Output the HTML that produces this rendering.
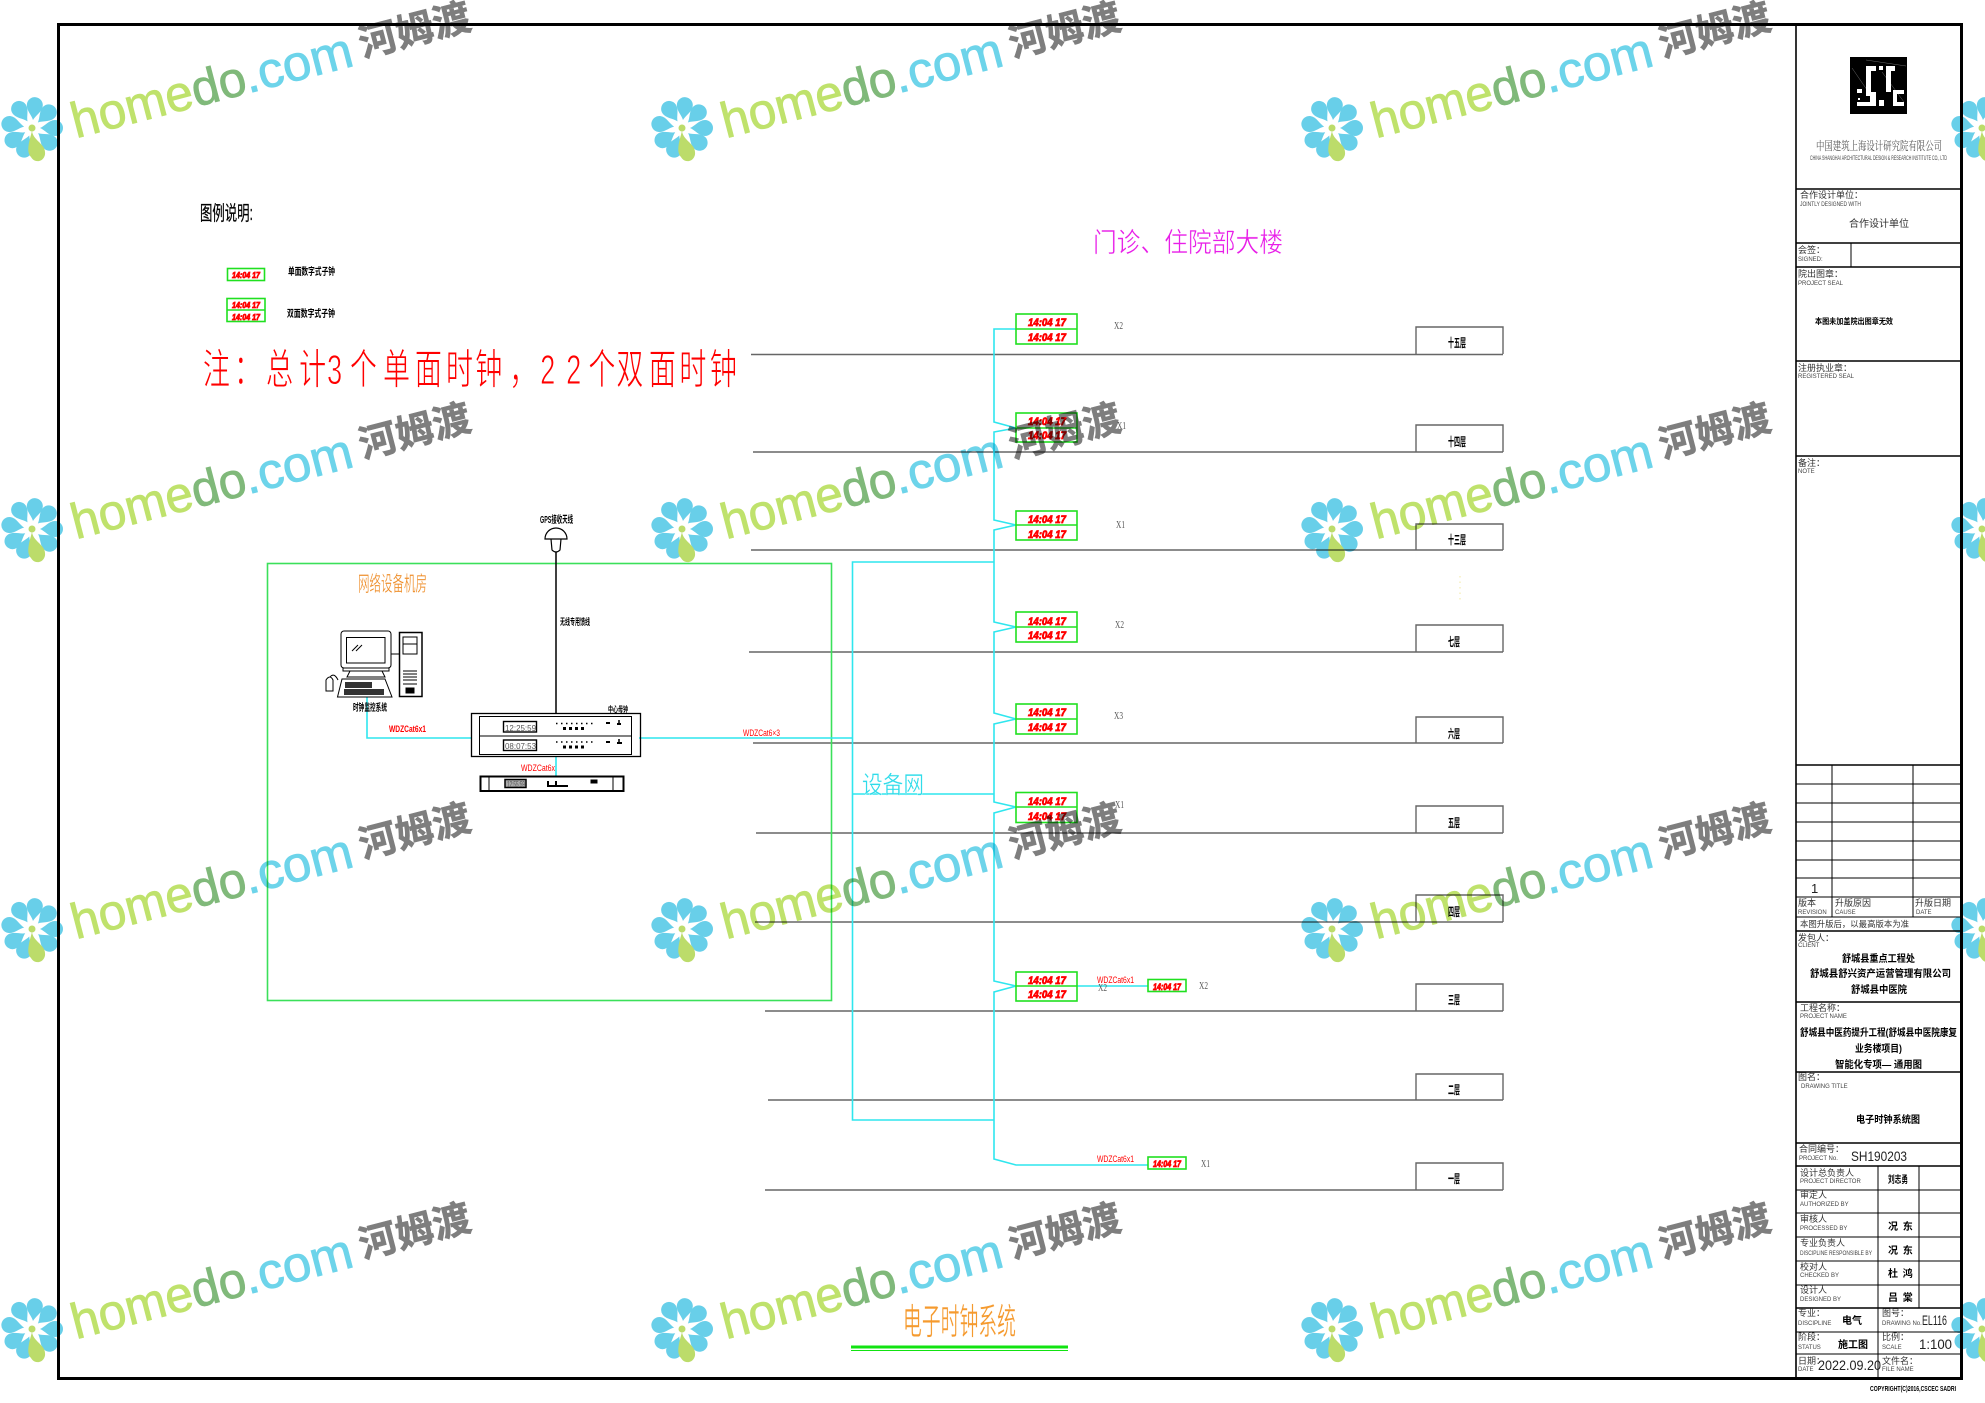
<!DOCTYPE html>
<html><head><meta charset="utf-8"><title>电子时钟系统</title>
<style>
html,body{margin:0;padding:0;background:#fff}
svg{display:block}
text{font-family:"Liberation Sans","Noto Sans CJK SC",sans-serif}
.cn{fill:#000;stroke:#000;stroke-width:.25}
.thin{stroke:#fff;stroke-width:.45}
.b{font-weight:700;fill:#000}
.en{fill:#444;font-size:6px}
.lb{fill:#333;font-size:9px}
.x{font-family:"Liberation Serif","Noto Serif CJK SC",serif;font-size:11px;fill:#555}
.r{fill:#f00;font-size:9px}
.ck{font-family:"Liberation Sans",sans-serif;font-weight:700;font-style:italic;fill:#f00;font-size:11px;stroke:#f00;stroke-width:.8}
.cb{fill:#fff;stroke:#20e020;stroke-width:1.6}
.fl{font-weight:700;fill:#000;font-size:12px}
.wm1{font-size:50px;fill:#bfe26c;stroke:#bfe26c;stroke-width:.8}
.wm2{font-size:50px;fill:#80b97a;stroke:#80b97a;stroke-width:.8}
.wm3{font-size:50px;fill:#6dd4ea;stroke:#6dd4ea;stroke-width:.8}
.wm4{font-size:38px;font-weight:700;fill:#7e7e7e;stroke:#7e7e7e;stroke-width:.6}
</style></head>
<body>
<svg xmlns="http://www.w3.org/2000/svg" width="1985" height="1403" viewBox="0 0 1985 1403">
<defs>
<g id="flower">
<g fill="#68cfe9">
<path transform="rotate(326)" d="M0,-8C-2,-13 -8,-17 -8,-23A8,8 0 0 1 8,-23C8,-17 2,-13 0,-8Z"/>
<path transform="rotate(7)" d="M0,-8C-2,-13 -8,-17 -8,-23A8,8 0 0 1 8,-23C8,-17 2,-13 0,-8Z"/>
<path transform="rotate(47)" d="M0,-8C-2,-13 -8,-17 -8,-23A8,8 0 0 1 8,-23C8,-17 2,-13 0,-8Z"/>
<path transform="rotate(90)" d="M0,-8C-2,-13 -8,-17 -8,-23A8,8 0 0 1 8,-23C8,-17 2,-13 0,-8Z"/>
<path transform="rotate(130)" d="M0,-8C-2,-13 -8,-17 -8,-23A8,8 0 0 1 8,-23C8,-17 2,-13 0,-8Z"/>
<path transform="rotate(200)" d="M0,-8C-2,-13 -8,-17 -8,-23A8,8 0 0 1 8,-23C8,-17 2,-13 0,-8Z"/>
<path transform="rotate(238)" d="M0,-8C-2,-13 -8,-17 -8,-23A8,8 0 0 1 8,-23C8,-17 2,-13 0,-8Z"/>
<path transform="rotate(280)" d="M0,-8C-2,-13 -8,-17 -8,-23A8,8 0 0 1 8,-23C8,-17 2,-13 0,-8Z"/>
</g>
<path fill="#bcdc6a" d="M0,3C1,12 13,16 13,24A7.5,8 0 0 1 -1,29C-6,24 -3,14 0,3Z"/>
<circle cx="0" cy="0" r="3.5" fill="#bcdc6a"/>
</g>
</defs>

<rect width="1985" height="1403" fill="#fff"/>

<!-- sheet frame -->
<rect x="58.5" y="24.5" width="1903" height="1354" fill="none" stroke="#000" stroke-width="3"/>
<line x1="1796" y1="24" x2="1796" y2="1378" stroke="#000" stroke-width="1.6"/>

<!-- legend -->
<text class="cn" transform="translate(200,220) scale(.62,1)" font-size="20">图例说明:</text>
<rect class="cb" x="227.500" y="268.500" width="37" height="12"/>
<text class="ck" x="232" y="278" style="font-size:8px" textLength="28" lengthAdjust="spacingAndGlyphs">14:04 17</text>
<text class="b" x="288" y="275" font-size="10" textLength="47" lengthAdjust="spacingAndGlyphs">单面数字式子钟</text>
<rect class="cb" x="227" y="298.500" width="38" height="23"/>
<line x1="227" y1="310" x2="265" y2="310" stroke="#20e020" stroke-width="1.4"/>
<text class="ck" x="232" y="308" style="font-size:8px" textLength="28" lengthAdjust="spacingAndGlyphs">14:04 17</text>
<text class="ck" x="232" y="320" style="font-size:8px" textLength="28" lengthAdjust="spacingAndGlyphs">14:04 17</text>
<text class="b" x="287" y="317" font-size="10" textLength="48" lengthAdjust="spacingAndGlyphs">双面数字式子钟</text>

<!-- red note -->
<text transform="scale(.65,1)" fill="#f00" class="thin" style="stroke-width:.9" font-size="42" y="384" x="312 360 409 460 503 538 589 638 686 731 783 831 871 905 948 998 1045 1092">注：总计3个单面时钟，22个双面时钟</text>

<!-- heading -->
<text x="1093" y="252" font-size="27" fill="#e81ee8" class="thin" textLength="190" lengthAdjust="spacingAndGlyphs">门诊、住院部大楼</text>

<!-- floor lines -->
<g stroke="#666" stroke-width="1.4" fill="none">
<path d="M751,354.500H1503M753,452H1503M751,550H1503M749,652H1503M753,743H1503M756,833H1503M755,922H1503M765,1011H1503M768,1100H1503M765,1190H1503"/>
<path d="M1416,354V327H1503V354M1416,452V425H1503V452M1416,550V524H1503V550M1416,652V625H1503V652M1416,743V717H1503V743M1416,833V806H1503V833M1416,922V895H1503V922M1416,1011V984H1503V1011M1416,1100V1074H1503V1100M1416,1190V1163H1503V1190"/>
</g>
<g class="fl">
<text class="fl" x="1448" y="347" textLength="18" lengthAdjust="spacingAndGlyphs">十五层</text>
<text class="fl" x="1448" y="446" textLength="18" lengthAdjust="spacingAndGlyphs">十四层</text>
<text class="fl" x="1448" y="544" textLength="18" lengthAdjust="spacingAndGlyphs">十三层</text>
<text class="fl" x="1448" y="646" textLength="12" lengthAdjust="spacingAndGlyphs">七层</text>
<text class="fl" x="1448" y="738" textLength="12" lengthAdjust="spacingAndGlyphs">六层</text>
<text class="fl" x="1448" y="827" textLength="12" lengthAdjust="spacingAndGlyphs">五层</text>
<text class="fl" x="1448" y="916" textLength="12" lengthAdjust="spacingAndGlyphs">四层</text>
<text class="fl" x="1448" y="1004" textLength="12" lengthAdjust="spacingAndGlyphs">三层</text>
<text class="fl" x="1448" y="1094" textLength="12" lengthAdjust="spacingAndGlyphs">二层</text>
<text class="fl" x="1448" y="1183" textLength="12" lengthAdjust="spacingAndGlyphs">一层</text>
</g>
<path d="M1460,576V602" stroke="#f6f0c0" stroke-width="1.5" stroke-dasharray="1.500 4" fill="none"/>

<!-- room -->
<rect x="267.500" y="563.500" width="564" height="437" fill="none" stroke="#3be05a" stroke-width="1.600"/>
<text x="358" y="591" font-size="21" fill="#ee8a22" textLength="69" lengthAdjust="spacingAndGlyphs" class="thin" style="stroke-width:.3">网络设备机房</text>

<!-- cyan bus -->
<g fill="none" stroke="#2fe6ee" stroke-width="1.600">
<path d="M1016,329H994V422L1016,428L994,432V520L1016,525L994,530V622L1016,627L994,632V713L1016,719L994,724V802L1016,807L994,813V981L1016,986L994,992V1159L1016,1165H1148"/>
<path d="M994,562H852.500V1120H994M852.500,794H994M639,738H852.500M367,697V738H471M556,757V776M1077,986H1148"/>
</g>
<text x="862" y="793" font-size="24" fill="#2fdcea" class="thin" style="stroke-width:.3" textLength="62" lengthAdjust="spacingAndGlyphs">设备网</text>

<!-- double clocks -->
<g>
<rect class="cb" x="1016" y="314" width="61" height="30"/><line x1="1016" y1="329" x2="1077" y2="329" stroke="#20e020" stroke-width="1.600"/>
<text class="ck" x="1028" y="326" textLength="38" lengthAdjust="spacingAndGlyphs">14:04 17</text><text class="ck" x="1028" y="341" textLength="38" lengthAdjust="spacingAndGlyphs">14:04 17</text>
<rect class="cb" x="1016" y="413" width="61" height="29"/><line x1="1016" y1="428" x2="1077" y2="428" stroke="#20e020" stroke-width="1.600"/>
<text class="ck" x="1028" y="425" textLength="38" lengthAdjust="spacingAndGlyphs">14:04 17</text><text class="ck" x="1028" y="439" textLength="38" lengthAdjust="spacingAndGlyphs">14:04 17</text>
<rect class="cb" x="1016" y="511" width="61" height="29"/><line x1="1016" y1="525" x2="1077" y2="525" stroke="#20e020" stroke-width="1.600"/>
<text class="ck" x="1028" y="523" textLength="38" lengthAdjust="spacingAndGlyphs">14:04 17</text><text class="ck" x="1028" y="538" textLength="38" lengthAdjust="spacingAndGlyphs">14:04 17</text>
<rect class="cb" x="1016" y="612" width="61" height="30"/><line x1="1016" y1="627" x2="1077" y2="627" stroke="#20e020" stroke-width="1.600"/>
<text class="ck" x="1028" y="625" textLength="38" lengthAdjust="spacingAndGlyphs">14:04 17</text><text class="ck" x="1028" y="639" textLength="38" lengthAdjust="spacingAndGlyphs">14:04 17</text>
<rect class="cb" x="1016" y="704" width="61" height="30"/><line x1="1016" y1="719" x2="1077" y2="719" stroke="#20e020" stroke-width="1.600"/>
<text class="ck" x="1028" y="716" textLength="38" lengthAdjust="spacingAndGlyphs">14:04 17</text><text class="ck" x="1028" y="731" textLength="38" lengthAdjust="spacingAndGlyphs">14:04 17</text>
<rect class="cb" x="1016" y="792.500" width="61" height="30"/><line x1="1016" y1="807" x2="1077" y2="807" stroke="#20e020" stroke-width="1.600"/>
<text class="ck" x="1028" y="805" textLength="38" lengthAdjust="spacingAndGlyphs">14:04 17</text><text class="ck" x="1028" y="820" textLength="38" lengthAdjust="spacingAndGlyphs">14:04 17</text>
<rect class="cb" x="1016" y="972" width="61" height="29"/><line x1="1016" y1="986" x2="1077" y2="986" stroke="#20e020" stroke-width="1.600"/>
<text class="ck" x="1028" y="984" textLength="38" lengthAdjust="spacingAndGlyphs">14:04 17</text><text class="ck" x="1028" y="998" textLength="38" lengthAdjust="spacingAndGlyphs">14:04 17</text>
<rect class="cb" x="1148" y="979.500" width="38" height="12"/><text class="ck" x="1153" y="990" style="font-size:9px" textLength="28" lengthAdjust="spacingAndGlyphs">14:04 17</text>
<rect class="cb" x="1148" y="1157" width="38" height="12"/><text class="ck" x="1153" y="1167" style="font-size:9px" textLength="28" lengthAdjust="spacingAndGlyphs">14:04 17</text>
</g>

<!-- X labels -->
<g>
<text class="x" x="1114" y="329" textLength="9" lengthAdjust="spacingAndGlyphs">X2</text>
<text class="x" x="1117" y="429" textLength="9" lengthAdjust="spacingAndGlyphs">X1</text>
<text class="x" x="1116" y="528" textLength="9" lengthAdjust="spacingAndGlyphs">X1</text>
<text class="x" x="1115" y="628" textLength="9" lengthAdjust="spacingAndGlyphs">X2</text>
<text class="x" x="1114" y="719" textLength="9" lengthAdjust="spacingAndGlyphs">X3</text>
<text class="x" x="1115" y="808" textLength="9" lengthAdjust="spacingAndGlyphs">X1</text>
<text class="x" x="1098" y="991" textLength="9" lengthAdjust="spacingAndGlyphs">X2</text>
<text class="x" x="1199" y="989" textLength="9" lengthAdjust="spacingAndGlyphs">X2</text>
<text class="x" x="1201" y="1167" textLength="9" lengthAdjust="spacingAndGlyphs">X1</text>
</g>
<text class="r" x="1097" y="983" textLength="37" lengthAdjust="spacingAndGlyphs">WDZCat6x1</text>
<text class="r" x="1097" y="1162" textLength="37" lengthAdjust="spacingAndGlyphs">WDZCat6x1</text>
<text class="r" x="389" y="732" textLength="37" lengthAdjust="spacingAndGlyphs" font-weight="700">WDZCat6x1</text>
<text class="r" x="743" y="736" textLength="37" lengthAdjust="spacingAndGlyphs">WDZCat6×3</text>
<text class="r" x="521" y="771" textLength="34" lengthAdjust="spacingAndGlyphs">WDZCat6x</text>

<!-- GPS antenna -->
<g fill="none" stroke="#000" stroke-width="1.200">
<path d="M545,539A11,11 0 0 1 567,539Z" fill="#fff"/>
<path d="M551,539L552,550Q556,554 560,550L561,539"/>
<line x1="556" y1="552" x2="556" y2="713" stroke-width="1.500"/>
</g>
<text class="b" x="540" y="523" font-size="10" textLength="33" lengthAdjust="spacingAndGlyphs">GPS接收天线</text>
<text class="b" x="560" y="625" font-size="9" textLength="30" lengthAdjust="spacingAndGlyphs">无线专用馈线</text>

<!-- computer -->
<g fill="none" stroke="#000" stroke-width="1">
<rect x="341" y="631" width="50" height="37" rx="3"/>
<rect x="346.500" y="637.500" width="38.500" height="25.500"/>
<path d="M352,660L358,654M356,660L362,654" transform="translate(0,-9)"/>
<path d="M343,668H389V671H343ZM350,671H382L385,677H347Z"/>
<path d="M391,654H399"/>
<rect x="399.500" y="632.500" width="22.500" height="64" stroke-width="1.500"/>
<rect x="403" y="637" width="14" height="17"/>
<path d="M403,644H417M403,684H417M403,671H417M403,674H417M403,677H417M403,680H417"/>
<rect x="406" y="688" width="8" height="5" fill="#000"/>
<path d="M342,679H385L392,697H337.500Z" fill="#fff"/>
<path d="M345,682H372V688H345ZM344,689H384V695H344Z" fill="#333" stroke="none"/>
<path d="M326,680Q330,674 333,680V691H326Z" fill="#fff"/>
<path d="M330,677Q334,672 338,680"/>
</g>
<text class="b" x="353" y="711" font-size="10" textLength="34" lengthAdjust="spacingAndGlyphs">时钟监控系统</text>

<!-- master clock -->
<g fill="none" stroke="#000" stroke-width="1">
<rect x="471.500" y="713.500" width="169" height="43" stroke-width="1.300"/>
<rect x="479.500" y="716.500" width="152" height="38"/>
<line x1="479.500" y1="736" x2="631.500" y2="736"/>
<rect x="503.500" y="721.500" width="33" height="10.500" stroke-width="1.400"/>
<rect x="503.500" y="740" width="33" height="10.500" stroke-width="1.400"/>
<path d="M556,723.500H596M556,742H596" stroke-width="1.500" stroke-dasharray="1.500 3.500"/>
<path d="M563,728.500H587M563,747H587" stroke-width="3" stroke-dasharray="3 3"/>
<path d="M606,723H610M606,742H610M617,724H621M617,743H622" stroke-width="2"/>
<path d="M619,720V724M619,739V743" stroke-width="1.500"/>
<rect x="480.500" y="776.500" width="143" height="14.500" stroke-width="2" fill="none"/>
<path d="M489,776.500V791M613,776.500V791"/>
<rect x="505" y="779.500" width="21" height="8" fill="#aaa" stroke-width="1.500"/>
<path d="M548,786H568M556,781V786M548,781V787" stroke-width="2"/>
<rect x="591" y="780" width="6" height="3" fill="#000"/>
</g>
<text x="505" y="731" font-size="8" fill="#555" textLength="31" lengthAdjust="spacingAndGlyphs">12:25:59</text>
<text x="505" y="749" font-size="8" fill="#555" textLength="31" lengthAdjust="spacingAndGlyphs">08:07:53</text>
<text x="507" y="787" font-size="8" fill="#555" textLength="18" lengthAdjust="spacingAndGlyphs">12:55:59</text>
<text class="b" x="608" y="712" font-size="8" textLength="20" lengthAdjust="spacingAndGlyphs">中心母钟</text>

<!-- bottom title -->
<text x="903" y="1334" font-size="36" fill="#f59a2e" class="thin" textLength="113" lengthAdjust="spacingAndGlyphs">电子时钟系统</text>
<path d="M851,1347H1068" stroke="#11e311" stroke-width="3"/>
<path d="M851,1350.500H1068" stroke="#11e311" stroke-width="1"/>

<!-- title block -->
<g stroke="#000" fill="none">
<path stroke-width="1.600" d="M1796,189H1961M1796,243H1961M1796,267H1961M1796,361H1961M1796,456H1961M1796,765H1961M1796,931H1961M1796,1002H1961M1796,1072H1961M1796,1143H1961M1796,1166H1961M1796,1308H1961"/>
<path stroke-width="1" d="M1851,243V267M1796,784H1961M1796,803H1961M1796,822H1961M1796,841H1961M1796,860H1961M1796,878H1961M1796,897H1961M1796,917H1961M1832,765V917M1913,765V917M1878,1166V1378M1919,1166V1308M1796,1190H1961M1796,1213H1961M1796,1237H1961M1796,1261H1961M1796,1285H1961M1796,1332H1961M1796,1354H1961"/>
</g>
<rect x="1850" y="57" width="57" height="57" fill="#000"/>
<path d="M1852,68L1876,103M1866,60L1906,66M1882,72L1904,102" stroke="#888" stroke-width=".4" fill="none"/>
<path d="M1866,66H1876V71H1871V92H1876V106H1857V102H1870V96H1866ZM1857,89H1862V93H1857ZM1858,98H1860V100H1858ZM1879,66H1883V70H1879ZM1886,66H1895V71H1891V92H1886ZM1879,100H1884V106H1879ZM1893,90H1904V94H1897V102H1904V106H1893Z" fill="#fff"/>

<text x="1816" y="150" font-size="12" fill="#555" style="font-family:'Liberation Serif','Noto Serif CJK SC',serif" textLength="126" lengthAdjust="spacingAndGlyphs">中国建筑上海设计研究院有限公司</text>
<text class="en" x="1810" y="160" textLength="137" lengthAdjust="spacingAndGlyphs">CHINA SHANGHAI ARCHITECTURAL DESIGN &amp; RESEARCH INSTITUTE CO., LTD</text>
<text class="lb" x="1800" y="198">合作设计单位：</text>
<text class="en" x="1800" y="206" textLength="61" lengthAdjust="spacingAndGlyphs">JOINTLY DESIGNED WITH</text>
<text x="1849" y="227" font-size="10" fill="#333">合作设计单位</text>
<text class="lb" x="1798" y="253">会签：</text><text class="en" x="1798" y="261">SIGNED:</text>
<text class="lb" x="1798" y="277">院出图章：</text><text class="en" x="1798" y="285">PROJECT SEAL</text>
<text class="b" x="1815" y="324" font-size="8" textLength="78" lengthAdjust="spacingAndGlyphs">本图未加盖院出图章无效</text>
<text class="lb" x="1798" y="371">注册执业章：</text><text class="en" x="1798" y="378">REGISTERED SEAL</text>
<text class="lb" x="1798" y="466">备注：</text><text class="en" x="1798" y="473">NOTE</text>

<text x="1811" y="893" font-size="13" fill="#222">1</text>
<text class="lb" x="1798" y="906">版本</text><text class="en" x="1798" y="914">REVISION</text>
<text class="lb" x="1835" y="906">升版原因</text><text class="en" x="1835" y="914">CAUSE</text>
<text class="lb" x="1915" y="906">升版日期</text><text class="en" x="1916" y="914">DATE</text>
<text x="1800" y="927" font-size="8.500" fill="#333" textLength="109" lengthAdjust="spacingAndGlyphs">本图升版后，以最高版本为准</text>
<text class="lb" x="1798" y="941">发包人：</text><text class="en" x="1798" y="947">CLIENT</text>
<text class="b" x="1842" y="962" font-size="10" textLength="73" lengthAdjust="spacingAndGlyphs">舒城县重点工程处</text>
<text class="b" x="1810" y="977" font-size="10" textLength="141" lengthAdjust="spacingAndGlyphs">舒城县舒兴资产运营管理有限公司</text>
<text class="b" x="1851" y="993" font-size="10" textLength="56" lengthAdjust="spacingAndGlyphs">舒城县中医院</text>
<text class="lb" x="1800" y="1011">工程名称：</text><text class="en" x="1800" y="1018">PROJECT NAME</text>
<text class="b" x="1800" y="1036" font-size="10" textLength="157" lengthAdjust="spacingAndGlyphs">舒城县中医药提升工程(舒城县中医院康复</text>
<text class="b" x="1855" y="1052" font-size="10" textLength="47" lengthAdjust="spacingAndGlyphs">业务楼项目)</text>
<text class="b" x="1835" y="1068" font-size="10" textLength="87" lengthAdjust="spacingAndGlyphs">智能化专项— 通用图</text>
<text class="lb" x="1798" y="1080">图名：</text><text class="en" x="1801" y="1088">DRAWING TITLE</text>
<text class="b" x="1856" y="1123" font-size="10" textLength="64" lengthAdjust="spacingAndGlyphs">电子时钟系统图</text>
<text class="lb" x="1799" y="1152">合同编号：</text><text class="en" x="1799" y="1160">PROJECT No.</text>
<text x="1851" y="1161" font-size="14" fill="#222" textLength="56" lengthAdjust="spacingAndGlyphs">SH190203</text>

<text class="lb" x="1800" y="1176">设计总负责人</text><text class="en" x="1800" y="1183">PROJECT DIRECTOR</text>
<text class="lb" x="1800" y="1198">审定人</text><text class="en" x="1800" y="1206">AUTHORIZED BY</text>
<text class="lb" x="1800" y="1222">审核人</text><text class="en" x="1800" y="1230">PROCESSED BY</text>
<text class="lb" x="1800" y="1246">专业负责人</text><text class="en" x="1800" y="1255" textLength="72" lengthAdjust="spacingAndGlyphs">DISCIPLINE RESPONSIBLE BY</text>
<text class="lb" x="1800" y="1270">校对人</text><text class="en" x="1800" y="1277">CHECKED BY</text>
<text class="lb" x="1800" y="1293">设计人</text><text class="en" x="1800" y="1301">DESIGNED BY</text>
<g class="b" font-size="10">
<text class="b" x="1888" y="1183" textLength="20" lengthAdjust="spacingAndGlyphs">刘志勇</text>
<text class="b" x="1888" y="1230" word-spacing="2">况 东</text>
<text class="b" x="1888" y="1254" word-spacing="2">况 东</text>
<text class="b" x="1888" y="1277" word-spacing="2">杜 鸿</text>
<text class="b" x="1888" y="1301" word-spacing="2">吕 棠</text>
<text class="b" x="1842" y="1324">电气</text>
<text class="b" x="1838" y="1348">施工图</text>
</g>
<text class="lb" x="1798" y="1316">专业：</text><text class="en" x="1798" y="1325">DISCIPLINE</text>
<text class="lb" x="1882" y="1316">图号：</text><text class="en" x="1882" y="1325">DRAWING No.</text>
<text x="1922" y="1325" font-size="14" fill="#222" textLength="25" lengthAdjust="spacingAndGlyphs">EL116</text>
<text class="lb" x="1798" y="1340">阶段：</text><text class="en" x="1798" y="1349">STATUS</text>
<text class="lb" x="1882" y="1340">比例：</text><text class="en" x="1882" y="1349">SCALE</text>
<text x="1919" y="1349" font-size="14" fill="#222" textLength="33" lengthAdjust="spacingAndGlyphs">1:100</text>
<text class="lb" x="1798" y="1364">日期：</text><text class="en" x="1798" y="1371">DATE</text>
<text x="1818" y="1370" font-size="14" fill="#222" textLength="63" lengthAdjust="spacingAndGlyphs">2022.09.20</text>
<text class="lb" x="1882" y="1364">文件名：</text><text class="en" x="1882" y="1371">FILE NAME</text>
<text class="b" x="1870" y="1391" font-size="7" textLength="86" lengthAdjust="spacingAndGlyphs">COPYRIGHT(C)2016,CSCEC SADRI</text>

<!-- watermarks -->
<g style="mix-blend-mode:multiply">
<g transform="translate(32,128)"><use href="#flower"/><g transform="rotate(-14.600)"><text class="wm1" x="40" y="21" textLength="124" lengthAdjust="spacingAndGlyphs">home</text><text class="wm2" x="164" y="21" textLength="55" lengthAdjust="spacingAndGlyphs">do</text><text class="wm3" x="218" y="21" textLength="111" lengthAdjust="spacingAndGlyphs">.com</text><text class="wm4" x="338" y="15">河姆渡</text></g></g>
<g transform="translate(682,128)"><use href="#flower"/><g transform="rotate(-14.600)"><text class="wm1" x="40" y="21" textLength="124" lengthAdjust="spacingAndGlyphs">home</text><text class="wm2" x="164" y="21" textLength="55" lengthAdjust="spacingAndGlyphs">do</text><text class="wm3" x="218" y="21" textLength="111" lengthAdjust="spacingAndGlyphs">.com</text><text class="wm4" x="338" y="15">河姆渡</text></g></g>
<g transform="translate(1332,128)"><use href="#flower"/><g transform="rotate(-14.600)"><text class="wm1" x="40" y="21" textLength="124" lengthAdjust="spacingAndGlyphs">home</text><text class="wm2" x="164" y="21" textLength="55" lengthAdjust="spacingAndGlyphs">do</text><text class="wm3" x="218" y="21" textLength="111" lengthAdjust="spacingAndGlyphs">.com</text><text class="wm4" x="338" y="15">河姆渡</text></g></g>
<g transform="translate(1982,128)"><use href="#flower"/></g>

<g transform="translate(32,529)"><use href="#flower"/><g transform="rotate(-14.600)"><text class="wm1" x="40" y="21" textLength="124" lengthAdjust="spacingAndGlyphs">home</text><text class="wm2" x="164" y="21" textLength="55" lengthAdjust="spacingAndGlyphs">do</text><text class="wm3" x="218" y="21" textLength="111" lengthAdjust="spacingAndGlyphs">.com</text><text class="wm4" x="338" y="15">河姆渡</text></g></g>
<g transform="translate(682,529)"><use href="#flower"/><g transform="rotate(-14.600)"><text class="wm1" x="40" y="21" textLength="124" lengthAdjust="spacingAndGlyphs">home</text><text class="wm2" x="164" y="21" textLength="55" lengthAdjust="spacingAndGlyphs">do</text><text class="wm3" x="218" y="21" textLength="111" lengthAdjust="spacingAndGlyphs">.com</text><text class="wm4" x="338" y="15">河姆渡</text></g></g>
<g transform="translate(1332,529)"><use href="#flower"/><g transform="rotate(-14.600)"><text class="wm1" x="40" y="21" textLength="124" lengthAdjust="spacingAndGlyphs">home</text><text class="wm2" x="164" y="21" textLength="55" lengthAdjust="spacingAndGlyphs">do</text><text class="wm3" x="218" y="21" textLength="111" lengthAdjust="spacingAndGlyphs">.com</text><text class="wm4" x="338" y="15">河姆渡</text></g></g>
<g transform="translate(1982,529)"><use href="#flower"/></g>

<g transform="translate(32,929)"><use href="#flower"/><g transform="rotate(-14.600)"><text class="wm1" x="40" y="21" textLength="124" lengthAdjust="spacingAndGlyphs">home</text><text class="wm2" x="164" y="21" textLength="55" lengthAdjust="spacingAndGlyphs">do</text><text class="wm3" x="218" y="21" textLength="111" lengthAdjust="spacingAndGlyphs">.com</text><text class="wm4" x="338" y="15">河姆渡</text></g></g>
<g transform="translate(682,929)"><use href="#flower"/><g transform="rotate(-14.600)"><text class="wm1" x="40" y="21" textLength="124" lengthAdjust="spacingAndGlyphs">home</text><text class="wm2" x="164" y="21" textLength="55" lengthAdjust="spacingAndGlyphs">do</text><text class="wm3" x="218" y="21" textLength="111" lengthAdjust="spacingAndGlyphs">.com</text><text class="wm4" x="338" y="15">河姆渡</text></g></g>
<g transform="translate(1332,929)"><use href="#flower"/><g transform="rotate(-14.600)"><text class="wm1" x="40" y="21" textLength="124" lengthAdjust="spacingAndGlyphs">home</text><text class="wm2" x="164" y="21" textLength="55" lengthAdjust="spacingAndGlyphs">do</text><text class="wm3" x="218" y="21" textLength="111" lengthAdjust="spacingAndGlyphs">.com</text><text class="wm4" x="338" y="15">河姆渡</text></g></g>
<g transform="translate(1982,929)"><use href="#flower"/></g>

<g transform="translate(32,1329)"><use href="#flower"/><g transform="rotate(-14.600)"><text class="wm1" x="40" y="21" textLength="124" lengthAdjust="spacingAndGlyphs">home</text><text class="wm2" x="164" y="21" textLength="55" lengthAdjust="spacingAndGlyphs">do</text><text class="wm3" x="218" y="21" textLength="111" lengthAdjust="spacingAndGlyphs">.com</text><text class="wm4" x="338" y="15">河姆渡</text></g></g>
<g transform="translate(682,1329)"><use href="#flower"/><g transform="rotate(-14.600)"><text class="wm1" x="40" y="21" textLength="124" lengthAdjust="spacingAndGlyphs">home</text><text class="wm2" x="164" y="21" textLength="55" lengthAdjust="spacingAndGlyphs">do</text><text class="wm3" x="218" y="21" textLength="111" lengthAdjust="spacingAndGlyphs">.com</text><text class="wm4" x="338" y="15">河姆渡</text></g></g>
<g transform="translate(1332,1329)"><use href="#flower"/><g transform="rotate(-14.600)"><text class="wm1" x="40" y="21" textLength="124" lengthAdjust="spacingAndGlyphs">home</text><text class="wm2" x="164" y="21" textLength="55" lengthAdjust="spacingAndGlyphs">do</text><text class="wm3" x="218" y="21" textLength="111" lengthAdjust="spacingAndGlyphs">.com</text><text class="wm4" x="338" y="15">河姆渡</text></g></g>
<g transform="translate(1982,1329)"><use href="#flower"/></g>
</g>
</svg>
</body></html>
